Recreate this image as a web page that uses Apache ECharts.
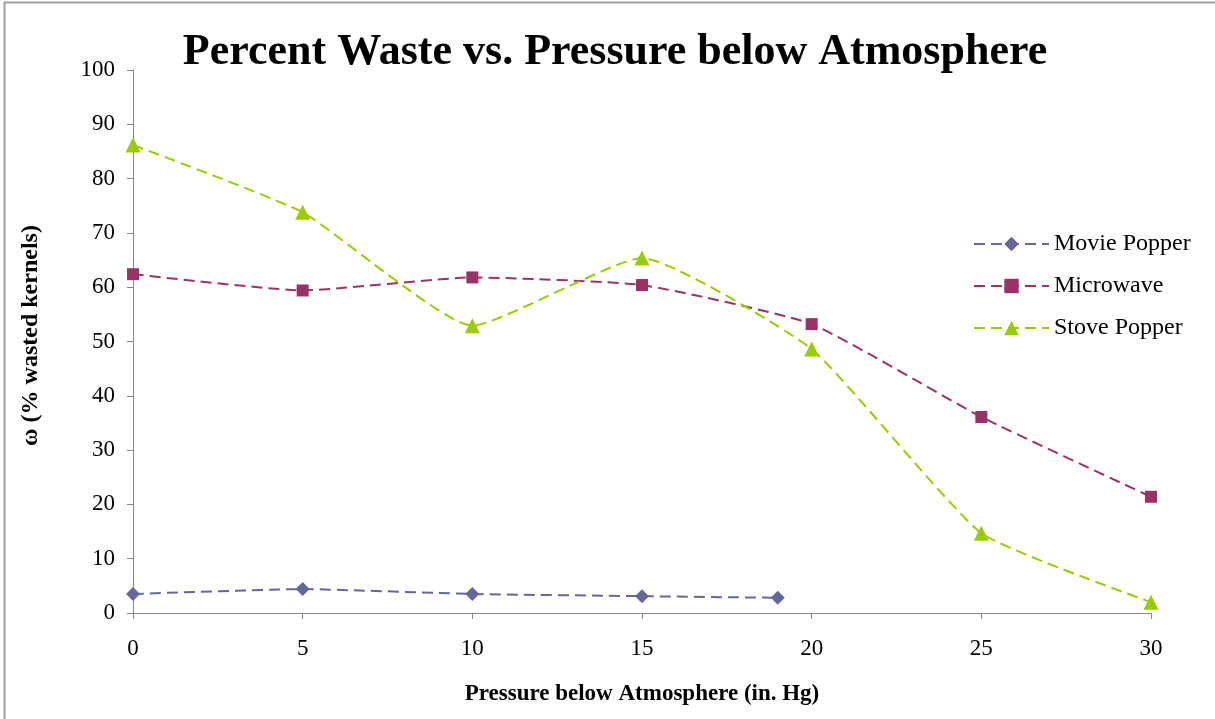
<!DOCTYPE html>
<html>
<head>
<meta charset="utf-8">
<script src="https://cdn.jsdelivr.net/npm/echarts@6/dist/echarts.min.js"></script>
<style>
  html, body { margin: 0; padding: 0; background: #fff; }
  #chart { width: 1215px; height: 719px; }
</style>
</head>
<body>
<div id="chart"></div>
<script>
// data
var moviePopper = [[0, 3.5], [5, 4.4], [10, 3.5], [15, 3.1], [19, 2.8]];
var microwave = [[0, 62.4], [5, 59.4], [10, 61.8], [15, 60.4], [20, 53.2], [25, 36.1], [30, 21.4]];
var stovePopper = [[0, 86.2], [5, 73.8], [10, 52.9], [15, 65.4], [20, 48.6], [25, 14.7], [30, 2.0]];
var seriesNames = ['Movie Popper', 'Microwave', 'Stove Popper'];

var font = '"Liberation Serif", "Times New Roman", serif';
var axisGray = '#868686';

var chart = echarts.init(document.getElementById('chart'));

function makeSeries(name, data, color, symbol, size) {
	return {
		name: name,
		type: 'line',
		data: data,
		smooth: 0.15,
		symbol: symbol,
		symbolSize: size,
		showSymbol: true,
		itemStyle: { color: color },
		lineStyle: { color: color, width: 2, type: [11, 6] },
		emphasis: { disabled: true }
	};
}

var option = {
	backgroundColor: '#fff',
	animation: false,
	title: {
		text: 'Percent Waste vs. Pressure below Atmosphere',
		left: 610,
		textAlign: 'center',
		top: 26,
		textStyle: { fontFamily: font, fontSize: 44, fontWeight: 'bold', color: '#000' }
	},
	legend: {
		orient: 'vertical',
		left: 968,
		top: 227,
		itemWidth: 75,
		itemHeight: 18,
		itemGap: 18,
		data: seriesNames,
		textStyle: { fontFamily: font, fontSize: 24, color: '#000' }
	},
	grid: {
		left: 133,
		right: 64,
		top: 70,
		bottom: 106
	},
	xAxis: {
		type: 'value',
		min: 0,
		max: 30,
		interval: 5,
		name: 'Pressure below Atmosphere (in. Hg)',
		nameLocation: 'middle',
		nameGap: 70,
		nameTextStyle: { fontFamily: font, fontSize: 23, fontWeight: 'bold', color: '#000' },
		axisLine: { lineStyle: { color: axisGray, width: 1 } },
		axisTick: { show: true, inside: false, length: 6, lineStyle: { color: axisGray } },
		axisLabel: { fontFamily: font, fontSize: 23, color: '#000', margin: 24 },
		splitLine: { show: false }
	},
	yAxis: {
		type: 'value',
		min: 0,
		max: 100,
		interval: 10,
		name: 'ω (% wasted kernels)',
		nameLocation: 'middle',
		nameGap: 90,
		nameTextStyle: { fontFamily: font, fontSize: 24, fontWeight: 'bold', color: '#000', padding: [0, 0, 0, 12] },
		axisLine: { show: true, lineStyle: { color: axisGray, width: 1 } },
		axisTick: { show: true, inside: false, length: 6, lineStyle: { color: axisGray } },
		axisLabel: { fontFamily: font, fontSize: 23, color: '#000', margin: 18 },
		splitLine: { show: false }
	},
	graphic: [{
		type: 'rect',
		shape: { x: 4.5, y: 2.5, width: 1400, height: 900 },
		style: { fill: null, stroke: '#a0a0a0', lineWidth: 2 },
		silent: true
	}],
	series: [
		makeSeries(seriesNames[0], moviePopper, '#666699', 'diamond', 14),
		makeSeries(seriesNames[1], microwave, '#993366', 'rect', 12),
		makeSeries(seriesNames[2], stovePopper, '#99CC00', 'triangle', 15)
	]
};

chart.setOption(option);
</script>
</body>
</html>
